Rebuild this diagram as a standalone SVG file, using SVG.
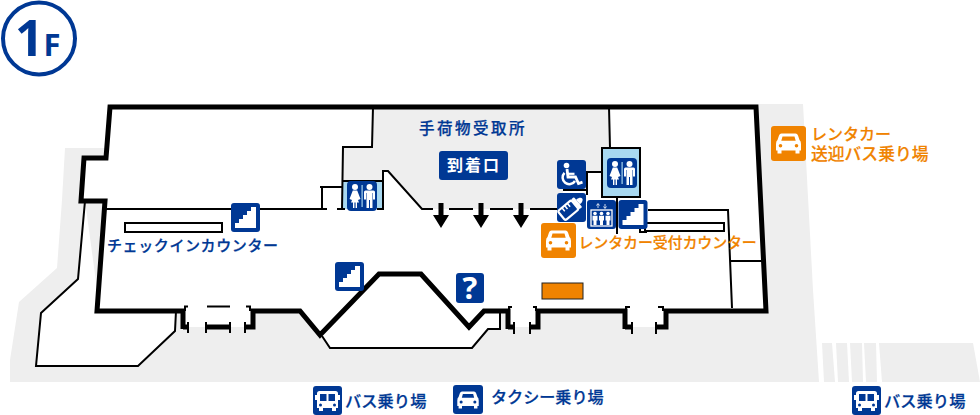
<svg xmlns="http://www.w3.org/2000/svg" width="980" height="415" viewBox="0 0 980 415">
<style>
.bg{fill:#003894}
.og{fill:#f08300}
.th{fill:none;stroke:#000;stroke-width:5;stroke-linejoin:miter}
.tn{fill:none;stroke:#000;stroke-width:2}
.g{fill:#eee}
.w{fill:#fff}
text{font-family:"Noto Sans CJK JP","Noto Sans",sans-serif;font-weight:500}
.tb{fill:#003894;font-size:15px;stroke:#003894;stroke-width:.25}
.to{fill:#f08300;font-size:15px;stroke:#f08300;stroke-width:.2}
.lat{font-family:"Open Sans",sans-serif;font-weight:700}
</style>
<defs>
<symbol id="stairs" viewBox="0 0 29 29"><rect class="bg" width="29" height="29" rx="3"/><path class="w" d="M4,25V20H8V16H12V12H16V8H20V4H25V25Z"/></symbol>
<symbol id="toilet" viewBox="0 0 30 30"><rect class="bg" width="30" height="30" rx="4"/><rect x="14.500" y="4" width="1.200" height="22" fill="#a8d8f0"/><circle class="w" cx="8" cy="6" r="3"/><path class="w" d="M5.800,9.500H10.200L13.500,18L11,19L12,21.500H10V27H8.600V21.500H7.400V27H6V21.500H4L5,19L2.500,18Z"/><circle class="w" cx="22.500" cy="6" r="3"/><path class="w" d="M18.500,9.500H26.500Q28,9.500,28,11V18.500H26V12H25.500V27H23V19H22V27H19.500V12H19V18.500H17V11Q17,9.500,18.500,9.500Z"/></symbol>
<symbol id="wheel" viewBox="0 0 29 29"><rect class="bg" width="29" height="29" rx="3"/><circle class="w" cx="9.500" cy="5.500" r="2.800"/><path d="M10,9L11,17H18.500L21.500,23.500L25.500,22.200" fill="none" stroke="#fff" stroke-width="2.800"/><path d="M11,13.800H17.500" stroke="#fff" stroke-width="2.200"/><path d="M7.500,12.800A6.700,6.700,0,1,0,18,21" fill="none" stroke="#fff" stroke-width="2.500"/></symbol>
<symbol id="bottle" viewBox="0 0 29 29"><rect class="bg" width="29" height="29" rx="3"/><g transform="rotate(50 14.500 14.500)"><rect x="8.500" y="10" width="12" height="17.500" rx="2" fill="none" stroke="#fff" stroke-width="2.200"/><rect class="w" x="8" y="6" width="13" height="3.500" rx="1"/><path class="w" d="M11.500,6C11.500,2.500,13,.5,14.500,.5S17.500,2.500,17.500,6Z"/><path d="M8.500,15H13M8.500,18.500H13M8.500,22H13" stroke="#fff" stroke-width="1.500"/></g></symbol>
<symbol id="elev" viewBox="0 0 29 29"><rect class="bg" width="29" height="29" rx="3"/><rect x="4" y="10" width="21" height="16" fill="none" stroke="#fff" stroke-width="1.300"/><path d="M11,8V4M9.500,5.500L11,3.500L12.500,5.500M18,4V8M16.500,6.500L18,8.500L19.500,6.500" fill="none" stroke="#fff" stroke-width=".8"/><g class="w"><circle cx="8" cy="13.500" r="1.800"/><path d="M5.500,15.800H10.500V20.500H9.500V25H6.500V20.500H5.500Z"/><circle cx="14.500" cy="13.500" r="1.800"/><path d="M12,15.800H17V20.500H16V25H13V20.500H12Z"/><circle cx="21" cy="13.500" r="1.800"/><path d="M18.500,15.800H23.500V20.500H22.500V25H19.500V20.500H18.500Z"/></g></symbol>
<symbol id="car" viewBox="0 0 35 35"><path class="w" fill-rule="evenodd" d="M10.500,7.500H24.500Q26.300,7.500,27,9.500L28.500,14Q30,15,30,18V24.500H28.500V27.500H24.500V24.500H10.500V27.500H6.500V24.500H5V18Q5,15,6.500,14L8,9.500Q8.700,7.500,10.500,7.500ZM11.500,10.500L10.300,14.800H24.700L23.500,10.500ZM9.500,18A1.800,1.800,0,1,0,9.500,21.600A1.800,1.800,0,1,0,9.500,18ZM25.500,18A1.800,1.800,0,1,0,25.500,21.600A1.800,1.800,0,1,0,25.500,18Z"/></symbol>
<symbol id="bus" viewBox="0 0 29 29"><rect class="bg" width="29" height="29" rx="3"/><path class="w" fill-rule="evenodd" d="M6.500,5H22.500Q25,5,25,7.500V22H4V7.500Q4,5,6.500,5ZM7,8V15H13.500V8ZM15.500,8V15H22V8ZM7.500,17.500A1.500,1.500,0,1,0,7.500,20.500A1.500,1.500,0,1,0,7.500,17.500ZM21.500,17.500A1.500,1.500,0,1,0,21.500,20.500A1.500,1.500,0,1,0,21.500,17.500Z"/><path class="w" d="M6,22H10V25H6ZM19,22H23V25H19ZM2,9H4V14H2ZM25,9H27V14H25Z"/></symbol>
<path id="arrow" d="M-2.500,-3H2.500V9H8L0,22L-8,9H-2.500Z"/>
</defs>

<g id="ground">
<polygon class="g" points="65,148 87,148 110,148 110,104 803,104 813,290 819,382 10,382 10,360 19,302 57,268 62,200"/>
<polygon class="g" points="822,343 832,343 835,382 824,382"/>
<polygon class="g" points="836,343 847,343 849,382 838,382"/>
<polygon class="g" points="850,343 862,343 863,382 852,382"/>
<polygon class="g" points="864,343 876,343 877,382 866,382"/>
<polygon class="g" points="879,343 973,343 980,382 882,382"/>
</g>

<g id="building">
<polygon class="w" points="85,201 78,279 41,313 36,366 138,366 175,331 176,311 100,311"/>
<path class="tn" d="M85,201L78,279L41,313L36,366H138L175,331L176,311"/>
<polygon class="w" points="110,107 758,107 766,311 666,311 666,327 625,327 625,311 538,311 538,327 508,327 508,311 500,311 500,329 488,329 472,348 330,348 320,335 300,311 253,311 253,327 183,327 183,311 97,311 105,201 81,201 84,158 106,158"/>
<polygon class="g" points="373,107 609,107 610,148 602,148 602,172 587,172 587,190 563,190 563,209 422,209 388,171 383,171 383,181 342,181 343,147 372,147"/>
<rect x="342" y="181" width="41" height="28" fill="#a8d8f0"/>
<rect x="602" y="148" width="38" height="49" fill="#a8d8f0" stroke="#000" stroke-width="2"/>
<path class="tn" d="M373,107L372,147H343L342,209M609,107L610,148M342,181H383V171H388L422,209H433M449,209H473M490,209H513M530,209H557M105,209H327M337,209H345M320,187H342M322,187V209"/>
<path class="tn" d="M383,181V209H377M585,172H602M587,172V195M563,190H587M617,197V234M640,229V232H647M648,210H728L732,308M730,261H763"/>
<rect x="125" y="223" width="97" height="9" fill="#fff" stroke="#000" stroke-width="2"/>
<rect x="645" y="223" width="79" height="8" fill="#fff" stroke="#000" stroke-width="2"/>
<rect x="542" y="283" width="41" height="16" fill="#f08300" stroke="#222" stroke-width="1"/>
<path class="th" d="M185,311H97L105,201H81L84,158H106L110,107H756L766,311H666V327H656M625,327H632M625,329V311H538V327H530M508,327H514M508,329V311H484L469,327L421,274H379L320,335L300,311H253V327H245M183,327H188M183,329V311"/>
<path class="th" d="M205,327H230"/>
<path class="tn" d="M322,336L330,348H472L488,329H500V311M185,311V306.500H188M250,311V306.500H246M207,306.500H230M188,322V333M245,322V333M206,322V333M230,322V333M514,322V334M530,322V334M509,311V307H512M536,311V307H533M632,322V334M656,322V334M626,311V307H630M663,311V307H658"/>
</g>

<g id="arrows">
<use href="#arrow" x="441" y="206"/>
<use href="#arrow" x="481" y="206"/>
<use href="#arrow" x="521" y="206"/>
</g>

<g id="floor-badge">
<circle cx="39" cy="38.500" r="36" fill="#fff" stroke="#003894" stroke-width="4"/>
<text class="lat" x="15" y="56" font-size="50" fill="#003894">1</text>
<text class="lat" x="43.500" y="56" font-size="31" fill="#003894">F</text>
</g>

<g id="stairs-1"><use href="#stairs" x="231" y="203" width="29" height="29"/></g>
<g id="stairs-2"><use href="#stairs" x="335" y="262" width="29" height="29"/></g>
<g id="stairs-3"><use href="#stairs" x="618" y="200" width="30" height="29"/></g>
<g id="toilet-1"><use href="#toilet" x="347" y="181" width="30" height="30"/></g>
<g id="toilet-2"><use href="#toilet" x="607" y="158" width="30" height="30"/></g>
<g id="wheelchair"><use href="#wheel" x="557" y="160" width="29" height="29"/></g>
<g id="nursery"><use href="#bottle" x="557" y="193" width="29" height="29"/></g>
<g id="elevator"><use href="#elev" x="587" y="200" width="29" height="29"/></g>
<g id="info"><rect class="bg" x="456" y="273" width="28" height="30" rx="3"/><text class="lat" x="470" y="299" text-anchor="middle" font-size="31" fill="#fff">?</text></g>

<g id="arrival-gate"><rect class="bg" x="439" y="151" width="69" height="29" rx="3"/><text x="447" y="171" font-size="16" letter-spacing="2" fill="#fff" style="font-weight:700">到着口</text></g>
<g id="baggage"><text class="tb" x="419" y="134" style="font-size:15.500px" letter-spacing="2.500">手荷物受取所</text></g>
<g id="checkin"><text class="tb" x="107" y="251" letter-spacing=".6">チェックインカウンター</text></g>

<g id="rental-counter"><rect class="og" x="541" y="223" width="35" height="35" rx="3"/><use href="#car" x="541" y="223" width="35" height="35"/><text class="to" x="578.500" y="248" letter-spacing="-.15">レンタカー受付カウンター</text></g>
<g id="rental-shuttle"><rect class="og" x="771" y="126" width="35" height="35" rx="3"/><use href="#car" x="771" y="126" width="35" height="35"/><text class="to" x="811" y="140" style="font-size:16px">レンタカー</text><text class="to" x="811" y="160" style="font-size:16.800px">送迎バス乗り場</text></g>

<g id="bus-1"><use href="#bus" x="313" y="386" width="29" height="29"/><text class="tb" x="345" y="407" style="font-size:16.300px">バス乗り場</text></g>
<g id="taxi"><rect class="bg" x="453" y="385" width="30" height="29" rx="3"/><use href="#car" x="453" y="385" width="30" height="30"/><text class="tb" x="491" y="403" style="font-size:16.100px">タクシー乗り場</text></g>
<g id="bus-2"><use href="#bus" x="852" y="386" width="29" height="29"/><text class="tb" x="884" y="407" style="font-size:16.300px">バス乗り場</text></g>
</svg>
